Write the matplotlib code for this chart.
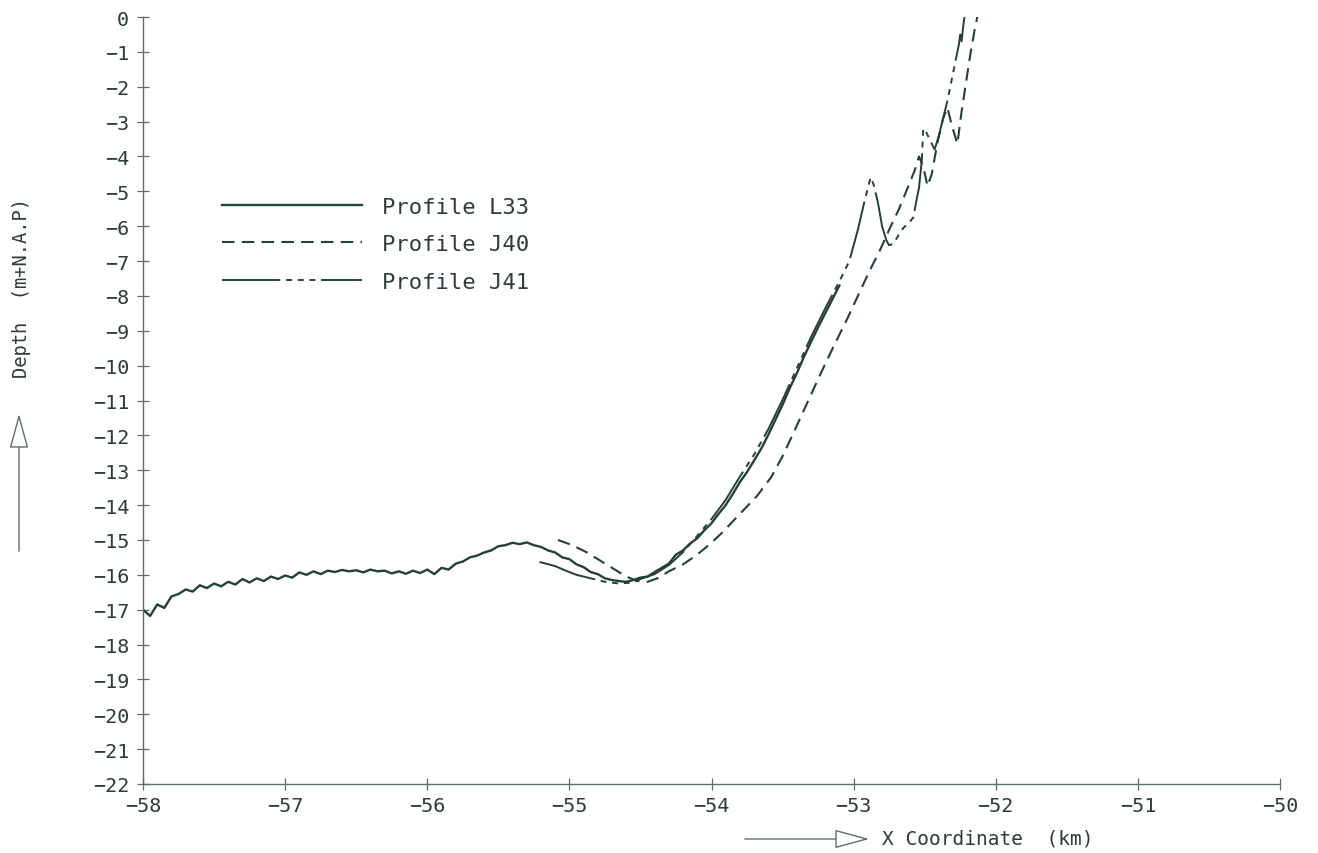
import matplotlib
matplotlib.use("Agg")
import matplotlib.pyplot as plt
from matplotlib.patches import FancyArrowPatch

# ---- data ----
l33_x = [-58.00, -57.95, -57.90, -57.85, -57.80, -57.75, -57.70, -57.65, -57.60, -57.55,
         -57.50, -57.45, -57.40, -57.35, -57.30, -57.25, -57.20, -57.15, -57.10, -57.05,
         -57.00, -56.95, -56.90, -56.85, -56.80, -56.75, -56.70, -56.65, -56.60, -56.55,
         -56.50, -56.45, -56.40, -56.35, -56.30, -56.25, -56.20, -56.15, -56.10, -56.05,
         -56.00, -55.95, -55.90, -55.85, -55.80, -55.75, -55.70, -55.65, -55.60, -55.55,
         -55.50, -55.45, -55.40, -55.35, -55.30, -55.25, -55.20, -55.15, -55.10, -55.05,
         -55.00, -54.95, -54.90, -54.85, -54.80, -54.75, -54.70, -54.65, -54.60, -54.55,
         -54.50, -54.45, -54.40, -54.35, -54.30, -54.25, -54.20, -54.15, -54.10, -54.05,
         -54.00, -53.95, -53.90, -53.85, -53.80, -53.75, -53.70, -53.65, -53.60, -53.55,
         -53.50, -53.45, -53.40, -53.35, -53.30, -53.25, -53.20, -53.15, -53.10]
l33_y = [-17.00, -17.18, -16.85, -16.95, -16.62, -16.55, -16.42, -16.48, -16.30, -16.38,
         -16.25, -16.33, -16.20, -16.28, -16.12, -16.22, -16.10, -16.18, -16.05, -16.12,
         -16.02, -16.08, -15.93, -16.00, -15.90, -15.98, -15.88, -15.92, -15.86, -15.90,
         -15.87, -15.93, -15.85, -15.90, -15.88, -15.96, -15.90, -15.97, -15.88, -15.95,
         -15.85, -15.98, -15.80, -15.85, -15.68, -15.62, -15.50, -15.45, -15.36, -15.30,
         -15.18, -15.15, -15.08, -15.12, -15.07, -15.15, -15.20, -15.30, -15.36, -15.50,
         -15.55, -15.70, -15.78, -15.92, -15.98, -16.10, -16.15, -16.18, -16.20, -16.15,
         -16.08, -16.05, -15.92, -15.80, -15.68, -15.42, -15.30, -15.10, -14.95, -14.72,
         -14.52, -14.25, -14.00, -13.68, -13.34, -13.05, -12.72, -12.38, -11.98, -11.55,
         -11.12, -10.65, -10.22, -9.75, -9.32, -8.90, -8.50, -8.10, -7.70]

j40_x = [-55.08, -54.98, -54.88, -54.78, -54.68, -54.60, -54.52, -54.45, -54.38, -54.30,
         -54.20, -54.10, -54.00, -53.92, -53.80, -53.68, -53.58, -53.50, -53.42, -53.33,
         -53.24, -53.14, -53.05, -52.97, -52.89, -52.81, -52.75, -52.68, -52.62, -52.57,
         -52.54, -52.51, -52.48, -52.45, -52.41, -52.37, -52.34, -52.31, -52.27, -52.24,
         -52.21, -52.18, -52.15, -52.13]
j40_y = [-15.00, -15.15, -15.35, -15.60, -15.85, -16.05, -16.18, -16.20, -16.10, -15.90,
         -15.70, -15.42, -15.08, -14.77, -14.25, -13.74, -13.20, -12.60, -11.90, -11.10,
         -10.30, -9.44, -8.70, -8.00, -7.30, -6.65, -6.10, -5.50, -4.90, -4.40,
         -4.00, -4.30, -4.85, -4.50, -3.60, -2.90, -2.60, -3.10, -3.64, -2.70,
         -1.90, -1.10, -0.40, 0.00]

j41_x = [-55.21, -55.10, -55.02, -54.95, -54.85, -54.75, -54.65, -54.55, -54.50, -54.40,
         -54.30, -54.20, -54.10, -54.00, -53.90, -53.80, -53.70, -53.60, -53.50, -53.40,
         -53.30, -53.20, -53.10, -53.03, -52.97, -52.93, -52.90, -52.88, -52.86, -52.83,
         -52.80, -52.77, -52.75, -52.72, -52.69, -52.65, -52.61, -52.58, -52.56, -52.54,
         -52.52, -52.51, -52.49, -52.46, -52.43, -52.40, -52.37, -52.34, -52.31, -52.28,
         -52.26, -52.25, -52.24, -52.23, -52.22]
j41_y = [-15.63, -15.75, -15.89, -16.00, -16.10, -16.20, -16.25, -16.22, -16.12, -15.98,
         -15.72, -15.35, -14.88, -14.40, -13.85, -13.18, -12.55, -11.82, -10.98, -10.08,
         -9.18, -8.36, -7.58, -7.00, -6.10, -5.40, -4.90, -4.60, -4.80, -5.30,
         -6.00, -6.40, -6.55, -6.50, -6.30, -6.05, -5.90, -5.75, -5.30, -4.90,
         -4.10, -3.20, -3.30, -3.55, -3.80, -3.40, -2.90, -2.40, -1.80, -1.20,
         -0.80, -0.50, -0.70, -0.30, 0.00]

labels = ["Profile L33", "Profile J40", "Profile J41"]
x_ticks = [-58, -57, -56, -55, -54, -53, -52, -51, -50]
y_ticks = list(range(0, -23, -1))

# ---- style ----
LINE = "#23403a"
TEXT = "#2c3c3a"
AXC = "#5d6f6b"
FONT = "DejaVu Sans Mono"
W, H = 1318, 854

fig = plt.figure(figsize=(13.18, 8.54), dpi=100)
ax = fig.add_axes([143 / W, 1 - 785 / H, (1280 - 143) / W, (785 - 18) / H])

ax.plot(l33_x, l33_y, color=LINE, lw=1.7, label=labels[0], solid_joinstyle="round")
ax.plot(j40_x, j40_y, color=LINE, lw=1.5, linestyle=(0, (6, 3.5)), label=labels[1])
ax.plot(j41_x, j41_y, color=LINE, lw=1.4, linestyle=(0, (30, 3, 3, 3, 3, 3, 3, 3)),
        label=labels[2])

ax.set_xlim(-58, -50)
ax.set_ylim(-22, 0)
ax.set_xticks(x_ticks)
ax.set_yticks(y_ticks)
ax.set_xticklabels([f"\u2212{abs(v)}" for v in x_ticks])
ax.set_yticklabels(["0" if v == 0 else f"\u2212{abs(v)}" for v in y_ticks])

for s in ["top", "right"]:
    ax.spines[s].set_visible(False)
for s in ["left", "bottom"]:
    ax.spines[s].set_color(AXC)
    ax.spines[s].set_linewidth(1.0)

ax.tick_params(direction="inout", length=8, width=0.9, color=AXC, labelcolor=TEXT,
               labelsize=14.5)
ax.tick_params(axis="x", pad=5)
ax.tick_params(axis="y", pad=6)
for lab in ax.get_xticklabels() + ax.get_yticklabels():
    lab.set_family(FONT)

leg = ax.legend(loc="upper left", bbox_to_anchor=(0.062, 0.777), frameon=False,
                handlelength=6.3, handletextpad=0.9, labelspacing=0.78,
                prop={"family": FONT, "size": 16}, borderaxespad=0)
for t in leg.get_texts():
    t.set_color(TEXT)

# axis labels with open-head arrows
fig.text(882 / W, 1 - 839 / H, "X Coordinate  (km)", family=FONT, size=14,
         color=TEXT, ha="left", va="center")
fig.text(22 / W, 1 - 288 / H, "Depth  (m+N.A.P)", family=FONT, size=13.5,
         color=TEXT, rotation=90, ha="center", va="center")
fig.add_artist(FancyArrowPatch(
    (742 / W, 1 - 840 / H), (872 / W, 1 - 840 / H), transform=fig.transFigure,
    arrowstyle="-|>,head_length=22,head_width=6", mutation_scale=1,
    edgecolor=AXC, facecolor="white", lw=1.0))
fig.add_artist(FancyArrowPatch(
    (19 / W, 1 - 555 / H), (19 / W, 1 - 412 / H), transform=fig.transFigure,
    arrowstyle="-|>,head_length=22,head_width=6", mutation_scale=1,
    edgecolor=AXC, facecolor="white", lw=1.0))

fig.savefig("out.png", dpi=100, facecolor="white")
